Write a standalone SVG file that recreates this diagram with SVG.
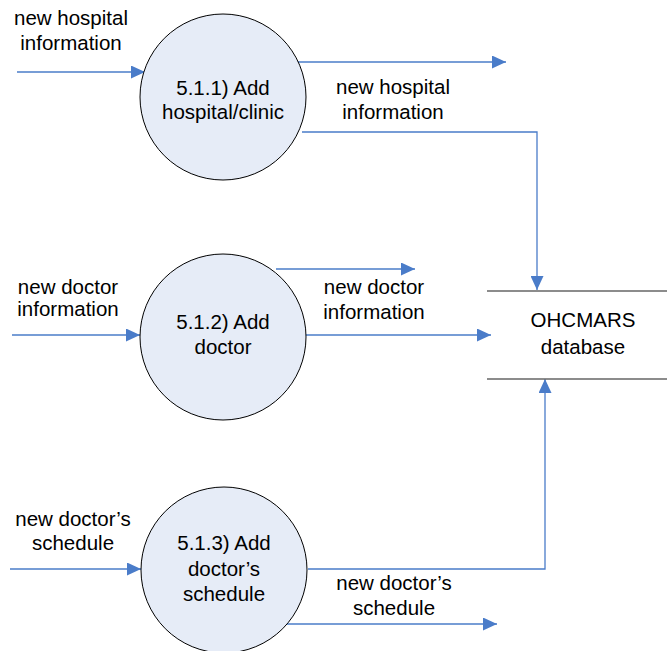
<svg xmlns="http://www.w3.org/2000/svg" width="667" height="651" viewBox="0 0 667 651">
<style>
.p{fill:#E6ECF7;stroke:#000;stroke-width:1}
.c{fill:none;stroke:#4A7CC9;stroke-width:1.3}
.t{font-family:"Liberation Sans",Arial,sans-serif;font-size:20.5px;fill:#000;text-anchor:middle}
.s{stroke:#666;stroke-width:1.5}
</style>
<defs>
<marker id="a" viewBox="0 0 14 13" refX="14" refY="6.5" markerWidth="14" markerHeight="13" markerUnits="userSpaceOnUse" orient="auto">
<path d="M0,0 L14,6.5 L0,13 Z" fill="#4A7CC9"/>
</marker>
</defs>
<rect width="667" height="651" fill="#fff"/>
<g id="connectors">
<path class="c" d="M17,72 H145" marker-end="url(#a)"/>
<path class="c" d="M297,62 H506" marker-end="url(#a)"/>
<path class="c" d="M302,132 H537 V290" marker-end="url(#a)"/>
<path class="c" d="M12,335 H140" marker-end="url(#a)"/>
<path class="c" d="M276,269 H415" marker-end="url(#a)"/>
<path class="c" d="M306,335 H491" marker-end="url(#a)"/>
<path class="c" d="M10,569 H141" marker-end="url(#a)"/>
<path class="c" d="M308,569 H545 V379" marker-end="url(#a)"/>
<path class="c" d="M286,624 H497" marker-end="url(#a)"/>
</g>
<g id="labels">
<text class="t" x="71" y="25">new hospital</text>
<text class="t" x="71" y="50">information</text>
<text class="t" x="393" y="94">new hospital</text>
<text class="t" x="393" y="119">information</text>
<text class="t" x="68" y="294">new doctor</text>
<text class="t" x="68" y="316">information</text>
<text class="t" x="374" y="294">new doctor</text>
<text class="t" x="374" y="319">information</text>
<text class="t" x="73" y="526">new doctor’s</text>
<text class="t" x="73" y="550">schedule</text>
<text class="t" x="394" y="590">new doctor’s</text>
<text class="t" x="394" y="615">schedule</text>
</g>
<g id="p511">
<circle class="p" cx="223" cy="97" r="83"/>
<text class="t" x="223" y="95">5.1.1) Add</text>
<text class="t" x="223" y="119">hospital/clinic</text>
</g>
<g id="p512">
<circle class="p" cx="223" cy="337" r="83"/>
<text class="t" x="223" y="329">5.1.2) Add</text>
<text class="t" x="223" y="354">doctor</text>
</g>
<g id="p513">
<circle class="p" cx="224" cy="570" r="83"/>
<text class="t" x="224" y="550">5.1.3) Add</text>
<text class="t" x="224" y="576">doctor’s</text>
<text class="t" x="224" y="601">schedule</text>
</g>
<g id="db">
<line class="s" x1="487" y1="291" x2="667" y2="291"/>
<line class="s" x1="487" y1="379" x2="667" y2="379"/>
<text class="t" x="583" y="327">OHCMARS</text>
<text class="t" x="583" y="354">database</text>
</g>
</svg>
